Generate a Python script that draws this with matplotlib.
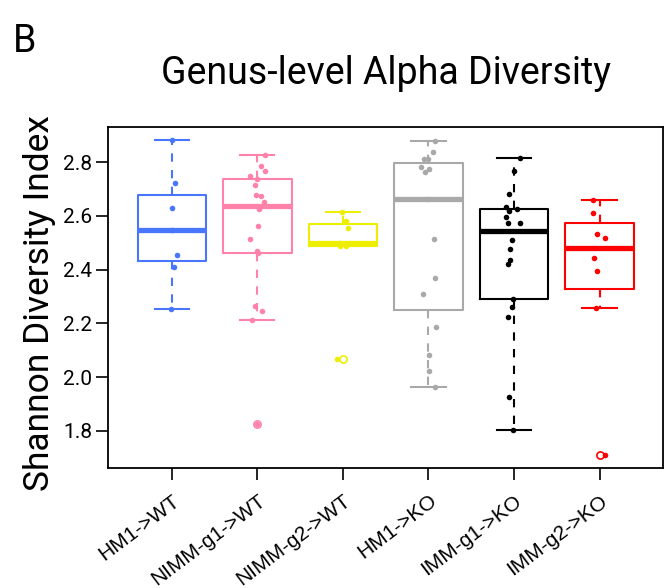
import numpy as np
import matplotlib.pyplot as plt
from matplotlib.transforms import ScaledTranslation

groups = ["HM1->WT", "NIMM-g1->WT", "NIMM-g2->WT", "HM1->KO", "IMM-g1->KO", "IMM-g2->KO"]
colors = ["#4876FF", "#FF82AB", "#EEEE00", "#A9A9A9", "#000000", "#FF0000"]

# Shannon index per sample
hm1_wt = [2.883, 2.723, 2.630, 2.548, 2.456, 2.410, 2.255]
nimm_g1_wt = [2.828, 2.786, 2.768, 2.750, 2.737, 2.716, 2.677, 2.673, 2.651,
              2.625, 2.563, 2.516, 2.471, 2.464, 2.264, 2.247, 2.212, 1.825]
nimm_g2_wt = [2.614, 2.583, 2.557, 2.500, 2.488, 2.487, 2.068]
hm1_ko = [2.880, 2.838, 2.812, 2.812, 2.781, 2.774, 2.763, 2.665, 2.515,
          2.368, 2.310, 2.187, 2.084, 2.023, 1.963]
imm_g1_ko = [2.815, 2.769, 2.682, 2.635, 2.627, 2.619, 2.598, 2.575, 2.573,
             2.512, 2.476, 2.438, 2.420, 2.291, 2.261, 2.223, 1.925, 1.804]
imm_g2_ko = [2.659, 2.610, 2.534, 2.518, 2.445, 2.397, 2.259, 1.711]

# horizontal jitter of the strip points
jit_hm1_wt = [0.0, 0.04, 0.0, 0.0, 0.066, 0.023, -0.008]
jit_nimm_g1_wt = [0.086, 0.043, 0.086, -0.09, -0.008, -0.03, -0.02, 0.047, 0.082,
                  0.023, 0.012, -0.086, -0.004, 0.008, -0.023, 0.058, -0.066, 0.0]
jit_nimm_g2_wt = [-0.016, 0.031, 0.055, -0.035, -0.031, 0.035, -0.072]
jit_hm1_ko = [0.078, 0.058, -0.055, -0.004, -0.086, 0.012, -0.039, 0.0, 0.066,
              0.082, -0.058, 0.086, 0.004, 0.004, 0.074]
jit_imm_g1_ko = [0.07, 0.0, -0.062, -0.097, 0.031, -0.062, -0.09, -0.066, 0.066,
                 -0.023, -0.043, -0.05, -0.074, -0.008, -0.023, -0.066, -0.055, -0.008]
jit_imm_g2_ko = [-0.074, -0.074, -0.035, 0.058, -0.066, -0.031, -0.047, 0.058]

data = [hm1_wt, nimm_g1_wt, nimm_g2_wt, hm1_ko, imm_g1_ko, imm_g2_ko]
jitter = [jit_hm1_wt, jit_nimm_g1_wt, jit_nimm_g2_wt, jit_hm1_ko, jit_imm_g1_ko, jit_imm_g2_ko]


def box_stats(vals):
    # Tukey hinges + 1.5*IQR whiskers, same as R's boxplot.stats
    x = np.sort(np.asarray(vals))
    n = len(x)
    n4 = np.floor((n + 3) / 2) / 2
    d = np.array([1, n4, (n + 1) / 2, n + 1 - n4, n]) - 1
    five = 0.5 * (x[np.floor(d).astype(int)] + x[np.ceil(d).astype(int)])
    iqr = five[3] - five[1]
    lo_f, hi_f = five[1] - 1.5 * iqr, five[3] + 1.5 * iqr
    inside = x[(x >= lo_f) & (x <= hi_f)]
    return dict(med=five[2], q1=five[1], q3=five[3],
                whislo=inside.min(), whishi=inside.max(),
                fliers=x[(x < lo_f) | (x > hi_f)])


fig = plt.figure(figsize=(6.64, 5.88), dpi=100)
ax = fig.add_axes([0.1633, 0.2036, 0.835, 0.5799])

for i, (vals, jit, col) in enumerate(zip(data, jitter, colors)):
    pos = i + 1
    st = box_stats(vals)
    ax.bxp([st], positions=[pos], widths=0.8, showfliers=False,
           boxprops=dict(color=col, linewidth=1.5),
           medianprops=dict(color=col, linewidth=3.8, solid_capstyle="butt"),
           whiskerprops=dict(color=col, linewidth=1.5, linestyle=(0, (4, 4))),
           capprops=dict(color=col, linewidth=1.5), capwidths=0.4,
           manage_ticks=False)
    if len(st["fliers"]):
        ax.plot([pos] * len(st["fliers"]), st["fliers"], "o", mfc="none",
                mec=col, ms=5.2, mew=1.2, zorder=3)
    ax.plot(pos + np.array(jit), vals, "o", color=col, ms=4.0, mew=0, zorder=4)

ax.set_xlim(0.26, 6.74)
ax.set_ylim(1.661, 2.930)
ax.set_yticks([1.8, 2.0, 2.2, 2.4, 2.6, 2.8])
ax.set_yticklabels(["1.8", "2.0", "2.2", "2.4", "2.6", "2.8"], family="Roboto", fontsize=15)
ax.set_xticks(range(1, 7))
ax.set_xticklabels(groups, rotation=37, ha="right", rotation_mode="anchor",
                   family="Liberation Sans", fontsize=15)
shift = ScaledTranslation(6.5 / 100, 0, fig.dpi_scale_trans)
for lab in ax.get_xticklabels():
    lab.set_transform(lab.get_transform() + shift)
ax.tick_params(direction="out", length=8.5, width=1.2, pad=3)
ax.tick_params(axis="x", pad=8)
for sp in ax.spines.values():
    sp.set_linewidth(1.3)

fig.text(49.5 / 664, 1 - 303.5 / 588, "Shannon Diversity Index", rotation=90,
         rotation_mode="anchor", ha="center", va="baseline",
         family="Roboto", fontsize=25.5)
fig.text(0.5807, 1 - 83.5 / 588, "Genus-level Alpha Diversity", ha="center",
         va="baseline", family="Roboto", fontsize=27)
fig.text(0.019, 1 - 52 / 588, "B", ha="left", va="baseline",
         family="Roboto", fontsize=27)

fig.savefig("out.png", dpi=100)
